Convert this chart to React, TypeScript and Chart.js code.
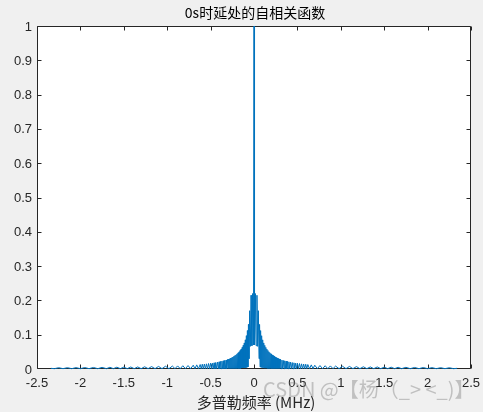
import { useEffect, useRef } from 'react';
import { Chart, registerables } from 'chart.js';

Chart.register(...registerables);

const titleText = '0s时延处的自相关函数';
const xLabelText = '多普勒频率 (MHz)';
const watermarkText = 'CSDN @【杨（_> <_)】';

const xTicks = [-2.5, -2, -1.5, -1, -0.5, 0, 0.5, 1, 1.5, 2, 2.5];
const xTickLabels = ['-2.5', '-2', '-1.5', '-1', '-0.5', '0', '0.5', '1', '1.5', '2', '2.5'];
const yTicks = [0, 0.1, 0.2, 0.3, 0.4, 0.5, 0.6, 0.7, 0.8, 0.9, 1];
const yTickLabels = ['0', '0.1', '0.2', '0.3', '0.4', '0.5', '0.6', '0.7', '0.8', '0.9', '1'];

// autocorrelation samples, negative Doppler side
const leftHalf: [number, number][] = [
  [-2.34, 0.002], [-2.3, 0.001], [-2.25, 0.0037], [-2.2, 0.001], [-2.15, 0.0038], [-2.1, 0.001],
  [-2.05, 0.004], [-2.0, 0.001], [-1.95, 0.0042], [-1.9, 0.001], [-1.85, 0.0045], [-1.8, 0.001],
  [-1.75, 0.0047], [-1.7, 0.001], [-1.66, 0.005], [-1.62, 0.001], [-1.58, 0.0052], [-1.54, 0.001],
  [-1.5, 0.0055], [-1.46, 0.001], [-1.42, 0.0058], [-1.38, 0.001], [-1.34, 0.006], [-1.3, 0.001],
  [-1.26, 0.0065], [-1.22, 0.001], [-1.18, 0.007], [-1.14, 0.001], [-1.1, 0.0075], [-1.06, 0.001],
  [-1.02, 0.008], [-0.98, 0.001], [-0.94, 0.0085], [-0.91, 0.001], [-0.88, 0.009], [-0.85, 0.001],
  [-0.82, 0.0095], [-0.79, 0.001], [-0.76, 0.01], [-0.73, 0.001], [-0.7, 0.011], [-0.68, 0.001],
  [-0.66, 0.012], [-0.64, 0.001],
  [-0.62, 0.013], [-0.608, 0.001], [-0.596, 0.014], [-0.584, 0.001], [-0.572, 0.0145], [-0.56, 0.001],
  [-0.548, 0.015], [-0.536, 0.001], [-0.524, 0.016], [-0.512, 0.001], [-0.5, 0.017], [-0.49, 0.001],
  [-0.48, 0.017], [-0.47, 0.001], [-0.46, 0.018], [-0.45, 0.001], [-0.44, 0.019], [-0.43, 0.001],
  [-0.42, 0.02], [-0.41, 0.001], [-0.402, 0.021], [-0.394, 0.001], [-0.386, 0.022], [-0.378, 0.001],
  [-0.37, 0.023], [-0.362, 0.001], [-0.354, 0.024], [-0.346, 0.001], [-0.338, 0.025], [-0.33, 0.001],
  [-0.322, 0.026], [-0.314, 0.001], [-0.306, 0.028], [-0.298, 0.002], [-0.292, 0.029], [-0.286, 0.002],
  [-0.28, 0.03], [-0.274, 0.002], [-0.268, 0.032], [-0.262, 0.002], [-0.256, 0.033], [-0.25, 0.002],
  [-0.244, 0.035], [-0.238, 0.002], [-0.232, 0.037], [-0.226, 0.002], [-0.22, 0.039], [-0.214, 0.002],
  [-0.208, 0.041], [-0.202, 0.002], [-0.196, 0.044], [-0.19, 0.002], [-0.184, 0.047], [-0.178, 0.002],
  [-0.172, 0.05], [-0.166, 0.002], [-0.16, 0.054], [-0.154, 0.002], [-0.148, 0.058], [-0.142, 0.003],
  [-0.136, 0.063], [-0.13, 0.003], [-0.124, 0.069], [-0.118, 0.003], [-0.112, 0.076], [-0.106, 0.004],
  [-0.1, 0.085], [-0.094, 0.004], [-0.088, 0.097], [-0.082, 0.005], [-0.076, 0.112], [-0.07, 0.006],
  [-0.064, 0.13], [-0.058, 0.03], [-0.05, 0.17], [-0.042, 0.066], [-0.034, 0.215], [-0.024, 0.068],
  [-0.016, 0.22], [-0.006, 0.07],
];

// autocorrelation samples, zero and positive Doppler side
const rightHalf: [number, number][] = [
  [0, 1], [0.006, 0.07], [0.016, 0.22], [0.024, 0.068], [0.034, 0.215], [0.042, 0.066],
  [0.05, 0.17], [0.058, 0.03], [0.064, 0.13], [0.07, 0.006], [0.076, 0.112], [0.082, 0.005],
  [0.088, 0.097], [0.094, 0.004], [0.1, 0.085], [0.106, 0.004], [0.112, 0.076], [0.118, 0.003],
  [0.124, 0.069], [0.13, 0.003], [0.136, 0.063], [0.142, 0.003], [0.148, 0.058], [0.154, 0.002],
  [0.16, 0.054], [0.166, 0.002], [0.172, 0.05], [0.178, 0.002], [0.184, 0.047], [0.19, 0.002],
  [0.196, 0.044], [0.202, 0.002], [0.208, 0.041], [0.214, 0.002], [0.22, 0.039], [0.226, 0.002],
  [0.232, 0.037], [0.238, 0.002], [0.244, 0.035], [0.25, 0.002], [0.256, 0.033], [0.262, 0.002],
  [0.268, 0.032], [0.274, 0.002], [0.28, 0.03], [0.286, 0.002], [0.292, 0.029], [0.298, 0.002],
  [0.306, 0.028], [0.314, 0.001], [0.322, 0.026], [0.33, 0.001], [0.338, 0.025], [0.346, 0.001],
  [0.354, 0.024], [0.362, 0.001], [0.37, 0.023], [0.378, 0.001], [0.386, 0.022], [0.394, 0.001],
  [0.402, 0.021], [0.41, 0.001], [0.42, 0.02], [0.43, 0.001], [0.44, 0.019], [0.45, 0.001],
  [0.46, 0.018], [0.47, 0.001], [0.48, 0.017], [0.49, 0.001], [0.5, 0.017], [0.512, 0.001],
  [0.524, 0.016], [0.536, 0.001], [0.548, 0.015], [0.56, 0.001], [0.572, 0.0145], [0.584, 0.001],
  [0.596, 0.014], [0.608, 0.001], [0.62, 0.013],
  [0.64, 0.001], [0.66, 0.012], [0.68, 0.001], [0.7, 0.011], [0.73, 0.001],
  [0.76, 0.01], [0.79, 0.001], [0.82, 0.0095], [0.85, 0.001], [0.88, 0.009], [0.91, 0.001],
  [0.94, 0.0085], [0.98, 0.001], [1.02, 0.008], [1.06, 0.001], [1.1, 0.0075], [1.14, 0.001],
  [1.18, 0.007], [1.22, 0.001], [1.26, 0.0065], [1.3, 0.001], [1.34, 0.006], [1.38, 0.001],
  [1.42, 0.006], [1.46, 0.001], [1.5, 0.0055], [1.54, 0.001], [1.58, 0.0053], [1.62, 0.001],
  [1.66, 0.005], [1.7, 0.001], [1.75, 0.0048], [1.8, 0.001], [1.85, 0.0045], [1.9, 0.001],
  [1.95, 0.0043], [2.0, 0.001], [2.05, 0.004], [2.1, 0.001], [2.15, 0.0038], [2.2, 0.001],
  [2.25, 0.0036], [2.3, 0.001], [2.34, 0.002],
];

const AXIS_COLOR = '#262626';
const LINE_COLOR = '#0072BD';
const TICK_FONT = '13px "Liberation Sans", Arial, sans-serif';
const CJK_FONT = '"Noto Sans CJK SC", "Liberation Sans", sans-serif';

const matlabAxes = {
  id: 'matlabAxes',
  beforeDraw(chart: any) {
    const { ctx, chartArea: a, width, height } = chart;
    ctx.save();
    ctx.fillStyle = '#F0F0F0';
    ctx.fillRect(0, 0, width, height);
    ctx.fillStyle = '#FFFFFF';
    ctx.fillRect(a.left, a.top, a.right - a.left, a.bottom - a.top);
    ctx.restore();
  },
  beforeDatasetsDraw(chart: any) {
    const { ctx, chartArea: a, scales } = chart;
    const L = a.left + 0.5, R = a.right - 0.5, T = a.top + 0.5, B = a.bottom - 0.5;
    ctx.save();
    ctx.strokeStyle = AXIS_COLOR;
    ctx.lineWidth = 1;
    ctx.beginPath();
    ctx.rect(L, T, R - L, B - T);
    const tl = 4;
    for (const v of xTicks) {
      const px = Math.round(scales.x.getPixelForValue(v)) + 0.5;
      ctx.moveTo(px, B); ctx.lineTo(px, B - tl);
      ctx.moveTo(px, T); ctx.lineTo(px, T + tl);
    }
    for (const v of yTicks) {
      const py = Math.min(B, Math.max(T, Math.round(scales.y.getPixelForValue(v)) + 0.5));
      ctx.moveTo(L, py); ctx.lineTo(L + tl, py);
      ctx.moveTo(R, py); ctx.lineTo(R - tl, py);
    }
    ctx.stroke();
    ctx.restore();
  },
  afterDraw(chart: any) {
    const { ctx, chartArea: a, scales } = chart;
    ctx.save();
    ctx.fillStyle = AXIS_COLOR;
    ctx.font = TICK_FONT;
    ctx.textAlign = 'right';
    ctx.textBaseline = 'middle';
    yTicks.forEach((v, i) => {
      ctx.fillText(yTickLabels[i], a.left - 5, scales.y.getPixelForValue(v) + 1);
    });
    ctx.textAlign = 'center';
    xTicks.forEach((v, i) => {
      ctx.fillText(xTickLabels[i], scales.x.getPixelForValue(v), a.bottom + 14);
    });
    const cx = (a.left + a.right) / 2;
    ctx.font = '14px ' + CJK_FONT;
    ctx.fillStyle = '#000000';
    ctx.fillText(titleText, cx + 1, 13);
    ctx.fillStyle = AXIS_COLOR;
    ctx.font = '15px ' + CJK_FONT;
    ctx.fillText(xLabelText, cx + 2, 402);
    ctx.font = '20px ' + CJK_FONT;
    ctx.textAlign = 'left';
    ctx.fillStyle = 'rgba(120,120,120,0.4)';
    ctx.fillText(watermarkText, 263, 389);
    ctx.restore();
  },
};

export default function App() {
  const ref = useRef<HTMLCanvasElement | null>(null);
  useEffect(() => {
    document.body.style.margin = '0';
    const canvas = ref.current;
    if (!canvas) return;
    const points = [...leftHalf, ...rightHalf].map(([x, y]) => ({ x, y }));
    const chart = new Chart(canvas, {
      type: 'line',
      data: {
        datasets: [
          {
            data: points,
            borderColor: LINE_COLOR,
            borderWidth: 1,
            pointRadius: 0,
            tension: 0,
            fill: false,
            clip: false,
            borderJoinStyle: 'round',
          } as any,
        ],
      },
      options: {
        responsive: false,
        devicePixelRatio: 1,
        animation: false,
        parsing: false,
        normalized: true,
        layout: { padding: { top: 26, right: 12, left: 0, bottom: 0 } },
        plugins: { legend: { display: false }, title: { display: false }, tooltip: { enabled: false } },
        scales: {
          x: {
            type: 'linear',
            min: -2.5,
            max: 2.5,
            grid: { display: false },
            border: { display: false },
            ticks: { display: false },
            afterFit: (s: any) => { s.height = 43; },
          },
          y: {
            type: 'linear',
            min: 0,
            max: 1,
            grid: { display: false },
            border: { display: false },
            ticks: { display: false },
            afterFit: (s: any) => { s.width = 37; },
          },
        },
      },
      plugins: [matlabAxes],
    });
    return () => chart.destroy();
  }, []);
  return <canvas ref={ref} width={483} height={412} style={{ display: 'block' }} />;
}
